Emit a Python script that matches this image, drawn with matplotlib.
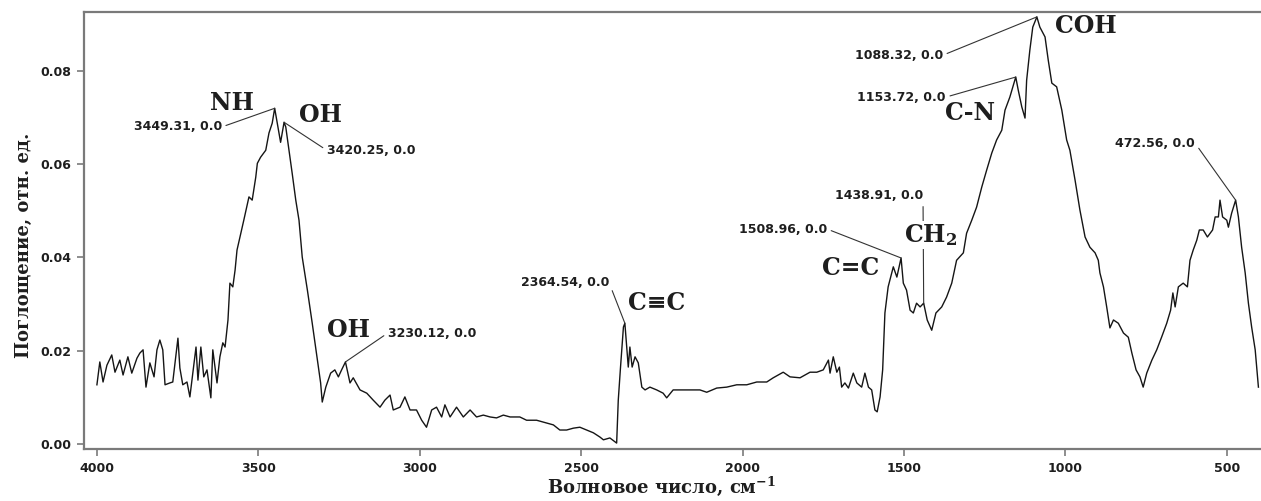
import matplotlib
matplotlib.use("Agg")
import matplotlib.pyplot as plt

# IR spectrum (wavenumber, cm-1 / absorbance)
wavenumber = [
    4000, 3991, 3981, 3969, 3954, 3944, 3929, 3919, 3904, 3892, 3876, 3867, 3857, 3848,
    3836, 3823, 3814, 3805, 3796, 3789, 3774, 3765, 3749, 3743, 3734, 3721, 3712, 3703,
    3693, 3687, 3678, 3669, 3659, 3647, 3641, 3628, 3619, 3610, 3603, 3594, 3588, 3579,
    3572, 3566, 3545, 3529, 3519, 3508, 3503, 3493, 3477, 3467, 3457, 3449.31, 3431,
    3420.25, 3415, 3405, 3395, 3384, 3374, 3364, 3348, 3333, 3317, 3307, 3302, 3291,
    3276, 3263, 3252, 3242, 3230.12, 3216, 3206, 3185, 3164, 3144, 3123, 3108, 3092,
    3082, 3061, 3046, 3030, 3010, 2994, 2979, 2963, 2948, 2932, 2922, 2906, 2886, 2865,
    2844, 2824, 2803, 2782, 2762, 2741, 2720, 2690, 2669, 2638, 2607, 2586, 2566, 2545,
    2524, 2504, 2483, 2462, 2442, 2431, 2411, 2390, 2385, 2378, 2369, 2364.54, 2354,
    2349, 2342, 2333, 2323, 2312, 2302, 2287, 2266, 2246, 2235, 2215, 2194, 2163, 2132,
    2111, 2080, 2049, 2018, 1987, 1956, 1925, 1905, 1874, 1853, 1822, 1791, 1770, 1750,
    1734, 1729, 1719, 1708, 1700, 1693, 1683, 1672, 1657, 1646, 1631, 1621, 1610, 1600,
    1590, 1583, 1574, 1566, 1559, 1549, 1538, 1533, 1522, 1508.96, 1502, 1492, 1481,
    1471, 1461, 1450, 1438.91, 1428, 1414, 1401, 1383, 1368, 1352, 1337, 1316, 1306,
    1290, 1275, 1259, 1244, 1228, 1213, 1197, 1187, 1172, 1153.72, 1146, 1135, 1125,
    1120, 1110, 1101, 1088.32, 1079, 1063, 1053, 1042, 1027, 1011, 996, 986, 970, 955,
    939, 924, 908, 898, 893, 882, 872, 862, 851, 836, 820, 805, 794, 781, 769, 759, 748,
    732, 717, 702, 686, 674, 667, 660, 650, 635, 622, 614, 604, 593, 585, 573, 560, 544,
    536, 526, 521, 513, 500, 495, 485, 472.56, 464, 454, 443, 433, 423, 418, 412, 402,
]
absorbance = [
    .0127, .0176, .0133, .0169, .0191, .0154, .0180, .0148, .0187, .0152, .0184, .0195, .0202, .0122,
    .0174, .0144, .0202, .0223, .0202, .0127, .0131, .0133, .0227, .0163, .0127, .0133, .0101, .0152,
    .0208, .0137, .0208, .0144, .0159, .0099, .0202, .0131, .0187, .0217, .0208, .0266, .0345, .0337,
    .0373, .0416, .0480, .0530, .0523, .0572, .0602, .0615, .0630, .0667, .0688, .0720, .0647,
    .0690, .0680, .0630, .0580, .0523, .0480, .0401, .0330, .0259, .0180, .0131, .0090, .0122,
    .0152, .0159, .0144, .0159, .0176, .0131, .0142, .0116, .0109, .0094, .0079, .0094, .0105,
    .0073, .0079, .0101, .0073, .0073, .0051, .0036, .0073, .0079, .0058, .0084, .0058, .0079, .0058,
    .0073, .0058, .0062, .0058, .0056, .0062, .0058, .0058, .0051, .0051, .0045, .0041, .0030, .0030,
    .0034, .0036, .0030, .0024, .0015, .0009, .0013, .0002, .0094, .0165, .0251, .0259, .0165,
    .0208, .0165, .0187, .0174, .0122, .0116, .0122, .0116, .0109, .0099, .0116, .0116, .0116, .0116,
    .0111, .0120, .0122, .0127, .0127, .0133, .0133, .0142, .0154, .0144, .0142, .0154, .0154, .0159,
    .0180, .0152, .0187, .0154, .0165, .0122, .0131, .0120, .0152, .0131, .0122, .0152, .0122, .0116,
    .0073, .0069, .0101, .0159, .0281, .0337, .0367, .0380, .0358, .0399, .0345, .0330, .0287,
    .0281, .0302, .0294, .0302, .0266, .0244, .0281, .0294, .0315, .0345, .0394, .0410, .0452,
    .0480, .0508, .0551, .0587, .0624, .0652, .0673, .0716, .0744, .0787, .0759, .0723, .0699,
    .0780, .0845, .0894, .0916, .0894, .0873, .0823, .0774, .0766, .0716, .0652, .0630, .0566, .0502,
    .0444, .0422, .0410, .0394, .0367, .0337, .0294, .0249, .0266, .0259, .0238, .0229, .0195, .0159, .0144, .0122, .0152,
    .0180, .0202, .0229, .0259, .0287, .0324, .0294, .0337, .0345, .0337, .0394, .0416, .0437, .0459, .0459, .0444, .0459,
    .0487, .0487, .0523, .0487, .0480, .0465, .0495, .0523, .0487, .0422, .0367, .0302, .0251, .0229, .0202, .0122,
]

# marked peaks and where their labels sit
peak_wn = [3449.31, 3420.25, 3230.12, 2364.54, 1508.96, 1438.91, 1153.72, 1088.32, 472.56]
peak_abs = [0.0720, 0.0690, 0.0176, 0.0259, 0.0399, 0.0302, 0.0787, 0.0916, 0.0523]
peak_text_x = [3613, 3288, 3099, 2414, 1738, 1441, 1370, 1379, 598]
peak_text_y = [0.0680, 0.0630, 0.0238, 0.0347, 0.0461, 0.0532, 0.0744, 0.0834, 0.0645]
peak_text_ha = ["right", "left", "left", "right", "right", "right", "right", "right", "right"]

groups = ["NH", "OH", "OH", "C\u2261C", "C=C", r"CH$_\mathbf{2}$", "C-N", "COH"]
group_x = [3582, 3306, 3222, 2265, 1664, 1416, 1295, 936]
group_y = [0.0731, 0.0705, 0.0244, 0.0302, 0.0377, 0.0448, 0.0710, 0.0896]

plt.rcParams["mathtext.fontset"] = "dejavuserif"
spine_c = "#7a7a7a"
txt_c = "#1e1e1e"

fig = plt.figure(figsize=(12.61, 5.01), dpi=100)
ax = fig.add_axes([84 / 1261, 1 - 449 / 501, 1 - 84 / 1261, (449 - 12) / 501])

ax.plot(wavenumber, absorbance, color="#151515", lw=1.0, zorder=2)

ax.set_xlim(4040, 394)
ax.set_ylim(-0.00107, 0.09265)
ax.set_xticks([4000, 3500, 3000, 2500, 2000, 1500, 1000, 500])
ax.set_yticks([0.0, 0.02, 0.04, 0.06, 0.08])
ax.set_yticklabels(["0.00", "0.02", "0.04", "0.06", "0.08"])
for s in ["left", "bottom", "top"]:
    ax.spines[s].set_color(spine_c)
    ax.spines[s].set_linewidth(1.6)
ax.spines["right"].set_visible(False)
ax.tick_params(axis="both", colors=spine_c, labelcolor=txt_c, length=5, width=1.2,
               labelsize=9, pad=4)
for lab in ax.get_xticklabels() + ax.get_yticklabels():
    lab.set_fontweight("bold")

ax.set_xlabel("Волновое число, см$^{\\mathregular{-1}}$", family="DejaVu Serif",
              fontweight="bold", fontsize=13, color=txt_c)
ax.xaxis.set_label_coords(0.491, -0.058)
ax.set_ylabel("Поглощение, отн. ед.", family="DejaVu Serif", fontweight="bold",
              fontsize=13, color=txt_c)
ax.yaxis.set_label_coords(-0.043, 0.467)

for wn, a, tx, ty, ha in zip(peak_wn, peak_abs, peak_text_x, peak_text_y, peak_text_ha):
    rel = (1, 0.5) if ha == "right" else (0, 0.5)
    ax.annotate(f"{wn:.2f}, 0.0", xy=(wn, a), xytext=(tx, ty), textcoords="data",
                ha=ha, va="center", fontsize=9, fontweight="bold", color=txt_c,
                arrowprops=dict(arrowstyle="-", color="#333333", lw=0.8,
                                relpos=rel, shrinkA=1, shrinkB=0), zorder=3)

for g, gx, gy in zip(groups, group_x, group_y):
    ax.text(gx, gy, g, ha="center", va="center", fontsize=17, fontweight="bold",
            family=["DejaVu Serif", "DejaVu Sans"], color=txt_c, zorder=4,
            bbox=dict(facecolor="white", edgecolor="none", pad=0.5) if "CH" in g else None)

fig.savefig("out.png", dpi=100)
